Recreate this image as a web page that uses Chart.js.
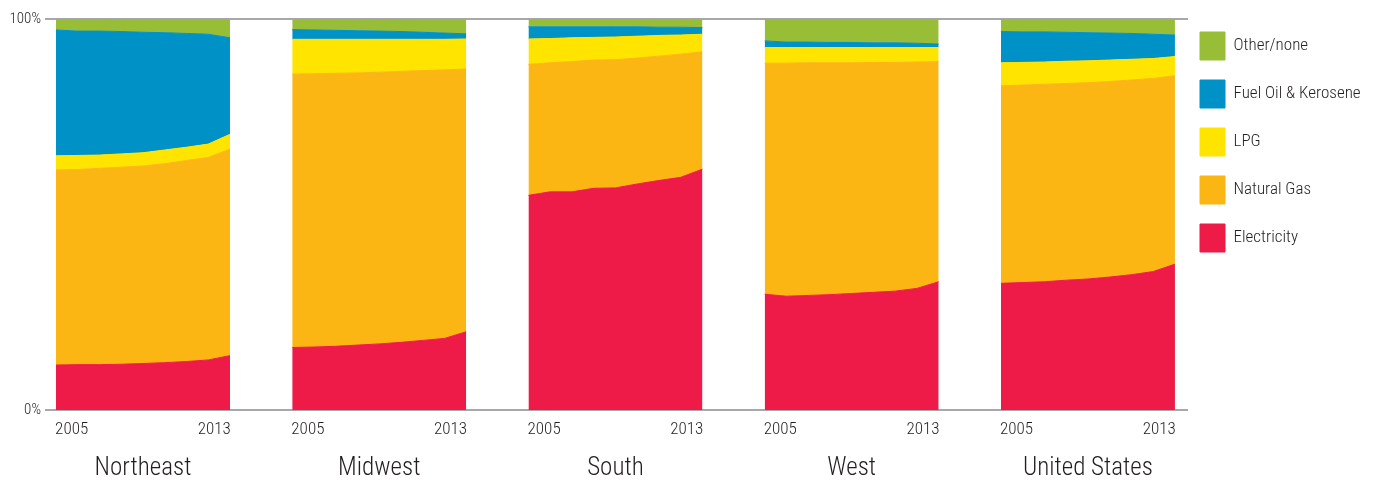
<!DOCTYPE html>
<html>
<head>
<meta charset="utf-8">
<script src="https://cdn.jsdelivr.net/npm/chart.js@4.4.1/dist/chart.umd.min.js"></script>
<style>
  html, body { margin: 0; padding: 0; background: #ffffff; }
  #wrap { width: 1378px; height: 483px; position: relative; }
</style>
</head>
<body>
<div id="wrap"><canvas id="chart" width="1378" height="483"></canvas></div>
<script>
// ---- data (percent share of households by main heating fuel) ----
const regions = ['Northeast', 'Midwest', 'South', 'West', 'United States'];
const years = [2005, 2006, 2007, 2008, 2009, 2010, 2011, 2012, 2013];
const yearTickLabels = ['2005', '2013'];
const categories = ['Electricity', 'Natural Gas', 'LPG', 'Fuel Oil & Kerosene', 'Other/none'];

// rows follow the order of `regions`
const electricity = [
  [11.5, 11.6, 11.6, 11.7, 11.9, 12.1, 12.4, 12.8, 13.9],
  [16.0, 16.1, 16.3, 16.6, 16.9, 17.3, 17.8, 18.3, 20.0],
  [54.9, 55.8, 55.8, 56.7, 56.8, 57.8, 58.7, 59.5, 61.6],
  [29.6, 29.1, 29.3, 29.5, 29.8, 30.1, 30.4, 31.1, 32.8],
  [32.4, 32.6, 32.8, 33.2, 33.5, 34.0, 34.6, 35.4, 37.3]
];
const naturalGas = [
  [49.9, 49.9, 50.2, 50.4, 50.5, 50.9, 51.4, 51.8, 52.8],
  [69.9, 69.9, 69.8, 69.6, 69.5, 69.3, 69.0, 68.7, 67.2],
  [33.5, 33.0, 33.3, 32.8, 32.8, 32.2, 31.8, 31.5, 30.0],
  [59.1, 59.6, 59.5, 59.3, 59.0, 58.8, 58.5, 57.9, 56.3],
  [50.5, 50.5, 50.5, 50.3, 50.2, 50.0, 49.8, 49.4, 48.2]
];
const lpg = [
  [3.6, 3.6, 3.4, 3.4, 3.4, 3.5, 3.4, 3.4, 3.8],
  [8.9, 8.8, 8.7, 8.6, 8.4, 8.2, 8.0, 7.8, 7.7],
  [6.5, 6.2, 6.1, 5.8, 5.8, 5.6, 5.3, 4.9, 4.5],
  [4.0, 4.0, 3.9, 3.9, 3.9, 3.8, 3.8, 3.7, 3.6],
  [5.9, 5.8, 5.7, 5.7, 5.6, 5.5, 5.3, 5.1, 4.9]
];
const fuelOil = [
  [32.2, 31.8, 31.7, 31.3, 30.8, 30.0, 29.1, 28.1, 24.7],
  [2.5, 2.4, 2.3, 2.2, 2.1, 2.0, 1.8, 1.6, 1.3],
  [3.1, 3.0, 2.8, 2.7, 2.6, 2.4, 2.1, 2.0, 1.7],
  [1.7, 1.4, 1.4, 1.3, 1.3, 1.2, 1.2, 1.1, 0.9],
  [8.0, 7.8, 7.7, 7.4, 7.2, 6.9, 6.6, 6.2, 5.5]
];
const otherNone = [
  [2.8, 3.1, 3.1, 3.2, 3.4, 3.5, 3.7, 3.9, 4.8],
  [2.7, 2.8, 2.9, 3.0, 3.1, 3.2, 3.4, 3.6, 3.8],
  [2.0, 2.0, 2.0, 2.0, 2.0, 2.0, 2.1, 2.1, 2.2],
  [5.6, 5.9, 5.9, 6.0, 6.0, 6.1, 6.1, 6.2, 6.4],
  [3.2, 3.3, 3.3, 3.4, 3.5, 3.6, 3.7, 3.9, 4.1]
];

// ---- styles / layout ----
const colors = ['#EE1A47', '#FBB614', '#FFE400', '#0092C7', '#98BD37'];
const FONT = "'Roboto Condensed', 'Liberation Sans Narrow', sans-serif";
const WEIGHT = 300;
const TEXT = '#231F20';
const panelStep = 10.862;   // distance (in years) between the starts of two panels
const yearSpan = years[years.length - 1] - years[0];
const xMax = 52.05;
const yearInset = 0.72;
const legendNudge = 8;      // px the legend sits closer to the plot than Chart.js' default padding

const seriesByCategory = [electricity, naturalGas, lpg, fuelOil, otherNone];
const datasets = [];
regions.forEach((region, r) => {
  categories.forEach((cat, c) => {
    datasets.push({
      label: cat,
      regionIndex: r,
      stack: 'region' + r,
      data: years.map((yr, i) => ({ x: r * panelStep + (yr - years[0]), y: seriesByCategory[c][r][i] })),
      backgroundColor: colors[c],
      borderColor: colors[c],
      borderWidth: 1,
      pointRadius: 0,
      pointHoverRadius: 0,
      tension: 0,
      fill: c === 0 ? 'origin' : '-1'
    });
  });
});

const legendNudgePlugin = {
  id: 'legendNudge',
  afterLayout(chart) {
    if (chart.legend) {
      chart.legend.left -= legendNudge;
      chart.legend.right -= legendNudge;
    }
  }
};

new Chart(document.getElementById('chart'), {
  type: 'line',
  data: { datasets },
  plugins: [legendNudgePlugin],
  options: {
    responsive: false,
    animation: false,
    devicePixelRatio: 1,
    events: [],
    layout: { padding: { top: 12, bottom: 1, left: 0, right: 0 } },
    plugins: {
      tooltip: { enabled: false },
      legend: {
        position: 'right',
        align: 'start',
        maxWidth: 190,
        reverse: true,
        onClick: null,
        labels: {
          boxWidth: 25,
          boxHeight: 28,
          padding: 20,
          color: TEXT,
          font: { family: FONT, size: 17, weight: WEIGHT },
          filter: (item, data) => data.datasets[item.datasetIndex].regionIndex === 0
        }
      }
    },
    scales: {
      x: {
        type: 'linear',
        position: 'bottom',
        weight: 0,
        min: 0,
        max: xMax,
        grid: { display: false, drawTicks: false },
        border: { display: false },
        afterBuildTicks: s => {
          s.ticks = regions.flatMap((_, r) => [
            { value: r * panelStep + yearInset },
            { value: r * panelStep + yearSpan - yearInset }
          ]);
        },
        afterFit: s => { s.height = 30; },
        ticks: {
          autoSkip: false,
          maxRotation: 0,
          padding: 10,
          color: TEXT,
          font: { family: FONT, size: 17, weight: WEIGHT },
          callback: (v, i) => yearTickLabels[i % 2]
        }
      },
      x2: {
        type: 'linear',
        position: 'bottom',
        weight: 1,
        min: 0,
        max: xMax,
        grid: { display: false, drawTicks: false },
        border: { display: false },
        afterBuildTicks: s => {
          s.ticks = regions.map((_, r) => ({ value: r * panelStep + yearSpan / 2 }));
        },
        afterFit: s => { s.height = 42; },
        ticks: {
          autoSkip: false,
          maxRotation: 0,
          padding: 16,
          color: TEXT,
          font: { family: FONT, size: 25, weight: WEIGHT, lineHeight: 1 },
          callback: (v, i) => regions[i]
        }
      },
      y: {
        stacked: true,
        min: 0,
        max: 100,
        border: { display: false },
        grid: { color: '#A8A8A8', lineWidth: 2, tickLength: 11, drawTicks: true },
        ticks: {
          stepSize: 100,
          padding: 4,
          color: TEXT,
          font: { family: FONT, size: 15, weight: WEIGHT },
          callback: v => v + '%'
        },
        afterFit: s => { s.width = 56; s.paddingTop = 19; }
      }
    }
  }
});
</script>
</body>
</html>
